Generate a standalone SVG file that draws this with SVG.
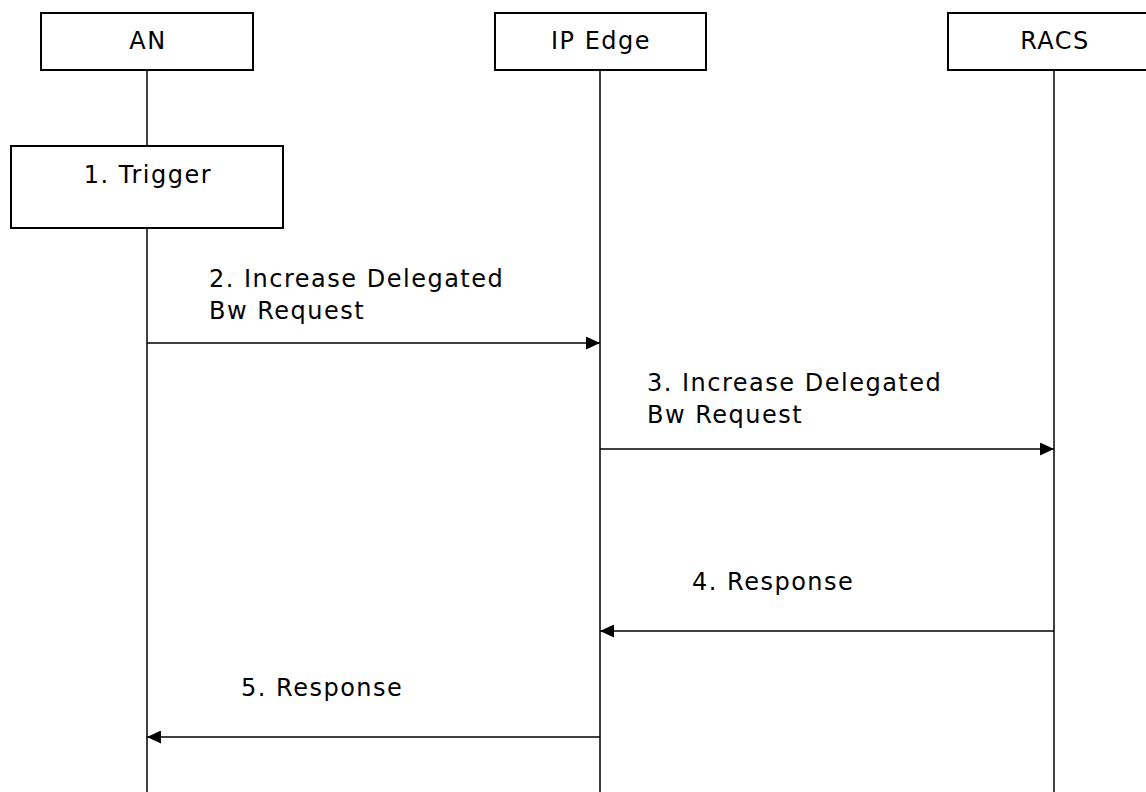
<svg xmlns="http://www.w3.org/2000/svg" width="1146" height="792" viewBox="0 0 1146 792">
<style>
.box{fill:#fff;stroke:#000;stroke-width:2}
.life{stroke:#000;stroke-width:1.5;fill:none}
.msg{stroke:#000;stroke-width:1.5;fill:none}
text{font-family:"DejaVu Sans","Verdana",sans-serif;font-size:24px;letter-spacing:1.5px;fill:#000}
.c{text-anchor:middle}
</style>
<defs>
<marker id="ah" viewBox="0 0 14 13" refX="14" refY="6.5" markerWidth="14" markerHeight="13" markerUnits="userSpaceOnUse" orient="auto">
<path d="M0,0 L14,6.5 L0,13 Z" fill="#000"/>
</marker>
</defs>
<rect width="1146" height="792" fill="#fff"/>
<g id="lifelines">
<line class="life" x1="147" y1="70" x2="147" y2="146"/>
<line class="life" x1="147" y1="228" x2="147" y2="792"/>
<line class="life" x1="600" y1="70" x2="600" y2="792"/>
<line class="life" x1="1054" y1="70" x2="1054" y2="792"/>
</g>
<g id="node-an">
<rect class="box" x="41" y="13" width="212" height="57"/>
<text class="c" x="148" y="49">AN</text>
</g>
<g id="node-ipedge">
<rect class="box" x="495" y="13" width="211" height="57"/>
<text class="c" x="601" y="49">IP Edge</text>
</g>
<g id="node-racs">
<rect class="box" x="948" y="13" width="212" height="57"/>
<text class="c" x="1055" y="49">RACS</text>
</g>
<g id="node-trigger">
<rect class="box" x="11" y="146" width="272" height="82"/>
<text class="c" x="148" y="183">1. Trigger</text>
</g>
<g id="connectors">
<line class="msg" x1="147" y1="343" x2="600" y2="343" marker-end="url(#ah)"/>
<line class="msg" x1="600" y1="449" x2="1054" y2="449" marker-end="url(#ah)"/>
<line class="msg" x1="1054" y1="631" x2="600" y2="631" marker-end="url(#ah)"/>
<line class="msg" x1="600" y1="737" x2="147" y2="737" marker-end="url(#ah)"/>
</g>
<g id="labels">
<text x="209" y="287">2. Increase Delegated</text>
<text x="209" y="319">Bw Request</text>
<text x="647" y="391">3. Increase Delegated</text>
<text x="647" y="423">Bw Request</text>
<text x="692" y="590">4. Response</text>
<text x="241" y="696">5. Response</text>
</g>
</svg>
